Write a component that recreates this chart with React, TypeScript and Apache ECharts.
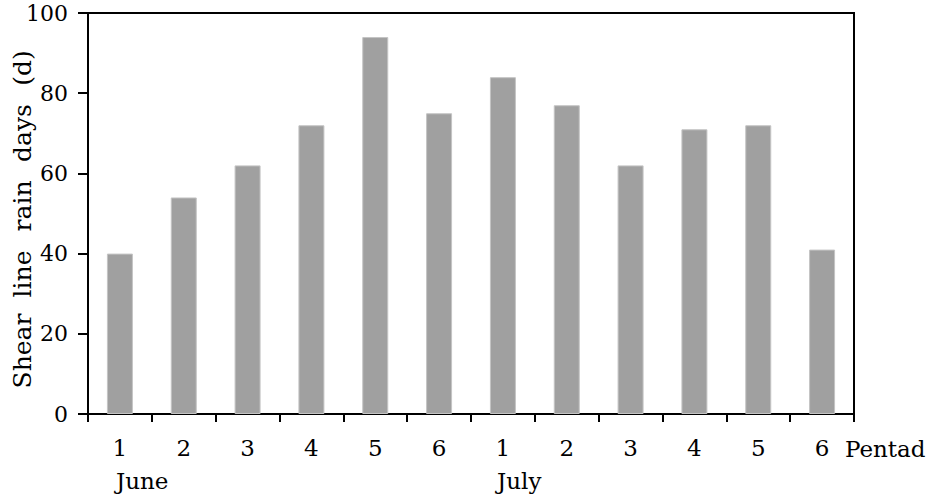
import React, { useEffect, useRef } from "react";
import * as echarts from "echarts";

const pentads = ["1", "2", "3", "4", "5", "6", "1", "2", "3", "4", "5", "6"];
const rainDays = [40, 54, 62, 72, 94, 75, 84, 77, 62, 71, 72, 41];
const yTicks = { min: 0, max: 100, interval: 20 };
const monthLabels = ["June", "July"];
const titleWords = ["Shear", "line", "rain", "days", "(d)"];

const FONT = "DejaVu Serif";

export default function App() {
  const ref = useRef<HTMLDivElement>(null);
  useEffect(() => {
    if (!ref.current) return;
    const chart = echarts.init(ref.current, undefined, { renderer: "svg" });
    const titleCenters = [351, 274, 206, 133, 68];
    const monthX = [116, 497];
    const txt = (text: string, x: number, y: number, align: string, rotation = 0, size = 23) => ({
      type: "text",
      x,
      y,
      rotation,
      style: {
        text,
        fontFamily: FONT,
        fontSize: size,
        fill: "#000",
        align,
        verticalAlign: "middle",
      },
    });
    chart.setOption({
      animation: false,
      backgroundColor: "#ffffff",
      textStyle: { fontFamily: FONT },
      grid: {
        left: 88,
        right: 80,
        top: 13,
        bottom: 82,
        show: true,
        borderColor: "#000",
        borderWidth: 2,
        backgroundColor: "transparent",
      },
      xAxis: {
        type: "category",
        data: pentads,
        boundaryGap: true,
        axisLine: { lineStyle: { color: "#000", width: 2 } },
        axisTick: { show: true, length: 8, inside: false, lineStyle: { color: "#000", width: 2 } },
        axisLabel: { color: "#000", fontFamily: FONT, fontSize: 23, margin: 22, interval: 0 },
        splitLine: { show: false },
      },
      yAxis: {
        type: "value",
        min: yTicks.min,
        max: yTicks.max,
        interval: yTicks.interval,
        axisLine: { show: true, lineStyle: { color: "#000", width: 2 } },
        axisTick: { show: true, length: 10, inside: false, lineStyle: { color: "#000", width: 2 } },
        axisLabel: { color: "#000", fontFamily: FONT, fontSize: 22, margin: 20 },
        splitLine: { show: false },
      },
      series: [
        {
          type: "bar",
          data: rainDays,
          barWidth: 26,
          itemStyle: { color: "#a0a0a0", borderColor: "#c4c4c4", borderWidth: 1 },
        },
      ],
      graphic: [
        ...titleWords.map((w, i) => txt(w, 22, titleCenters[i], "center", Math.PI / 2, 25)),
        ...monthLabels.map((m, i) => txt(m, monthX[i], 481, "left")),
        txt("Pentad", 845, 449, "left"),
      ],
    });
    return () => chart.dispose();
  }, []);
  return (
    <div
      ref={ref}
      style={{ position: "fixed", left: 0, top: 0, width: 934, height: 496, background: "#fff" }}
    />
  );
}
